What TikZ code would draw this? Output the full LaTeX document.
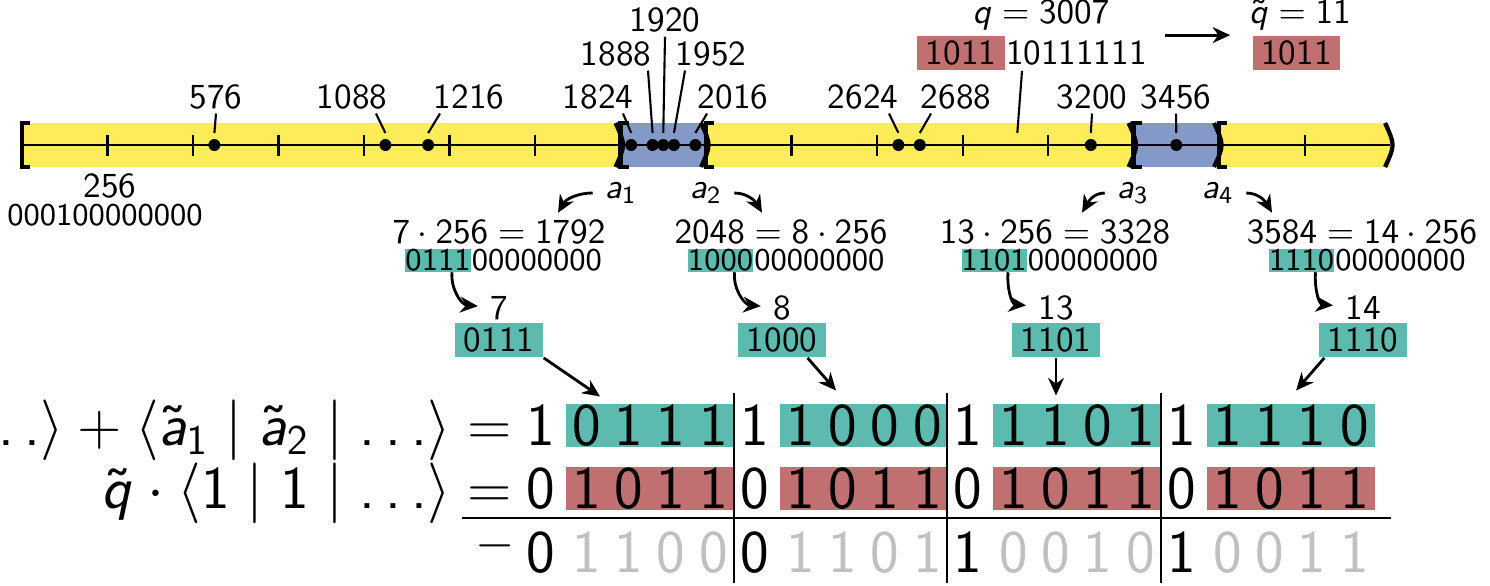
\documentclass[tikz,border=0pt]{standalone}
\renewcommand{\familydefault}{\sfdefault}
\DeclareSymbolFont{operators}{OT1}{cmss}{m}{n}
\DeclareSymbolFont{letters}{OT1}{cmss}{m}{sl}
\DeclareMathSymbol{\ldotp}{\mathpunct}{operators}{"2E}
\usetikzlibrary{arrows.meta, positioning, calc}
\definecolor{lineyellow}{RGB}{255,236,90}
\definecolor{ablue}{RGB}{133,153,200}
\definecolor{bitteal}{RGB}{92,187,174}
\definecolor{qred}{RGB}{192,112,112}
\definecolor{dimgray}{RGB}{192,192,192}
\newcommand{\nibble}[4]{\makebox[12pt]{#1}\makebox[12pt]{#2}\makebox[12pt]{#3}\makebox[12pt]{#4}}

\begin{document}
\begin{tikzpicture}[
    lbl/.style={inner sep=1pt},
    lead/.style={semithick},
    arr/.style={thick, -{Stealth[length=5pt, width=4.5pt]}},
    bits/.style={font=\small, inner sep=0pt},
    numbox/.style={inner xsep=2.4pt, inner ysep=1.5pt, text depth=0pt},
    bigbit/.style={font=\LARGE, inner sep=0pt, anchor=base},
    bigbox/.style={font=\LARGE, inner sep=0pt, anchor=base west, text depth=0.6pt},
    brk/.style={line width=1.2pt},
    lbrack/.pic={\draw[brk] (0.8mm,2.2mm) -- (0,2.2mm) -- (0,-2.2mm) -- (0.8mm,-2.2mm);},
    rparen/.pic={\draw[brk] (-0.5mm,2.2mm) .. controls (0.5mm,0) .. (-0.5mm,-2.2mm);}
  ]
  \useasboundingbox (0,0) rectangle (14.90,-5.85);

  % number line, one x unit per value
  \begin{scope}[xshift=2.2mm, x=0.0334mm]
    \fill[lineyellow] (0,-1.23) rectangle (4096,-1.67);
    \fill[ablue] (1792,-1.23) rectangle (2048,-1.67);
    \fill[ablue] (3328,-1.23) rectangle (3584,-1.67);
    \draw[thick] (0,-1.45) -- (4096,-1.45);
    \foreach \v in {256,512,...,1536,2304,2560,...,3072,3840}
      \draw[lead] (\v,-1.345) -- (\v,-1.555);
    \foreach \v in {0,1792,2048,3328,3584} \pic at (\v,-1.45) {lbrack};
    \foreach \v in {1792,2048,3328,3584,4096} \pic at (\v,-1.45) {rparen};
    \foreach \v in {576,1088,1216,1824,1888,1920,1952,2016,2624,2688,3200,3456} {
      \fill (\v,-1.45) circle (0.6mm);
      \coordinate (t\v) at (\v,-1.33);
    }
    \coordinate (tq) at (2980,-1.33);
  \end{scope}

  \foreach \v/\lx/\ly/\sx in {576/2.16/0.97/2.16, 1088/3.52/0.97/3.76, 1216/4.69/0.97/4.40,
      1824/5.98/0.97/6.23, 1888/6.16/0.54/6.48, 1920/6.65/0.20/6.65, 1952/7.11/0.54/6.85,
      2016/7.33/0.97/7.07, 2624/8.63/0.97/8.89, 2688/9.56/0.97/9.31, 3200/10.92/0.97/10.92,
      3456/11.76/0.97/11.76} {
    \node[lbl] (l\v) at (\lx,-\ly) {\v};
    \draw[lead] (l\v.south -| \sx,0) -- (t\v);
  }
  \node (l256) at (1.10,-1.86) {256};
  \node[bits] (b256) at (1.05,-2.15) {000100000000};

  % q and its top bits
  \node (qlab) at (10.41,-0.15) {$q = 3007$};
  \node[numbox, fill=qred] (qhl) at (9.61,-0.53) {1011};
  \node[inner xsep=0pt, inner ysep=1.5pt, text depth=0pt, right=0pt of qhl] (qrest) {10111111};
  \draw[lead] (qhl.south -| 10.22,0) -- (tq);
  \node (qtlab) at (13.00,-0.15) {$\tilde q = 11$};
  \node[numbox, fill=qred] (qt) at (12.965,-0.53) {1011};
  \draw[arr] ([xshift=1.8mm]qrest.north east) -- ([xshift=-2.2mm]qt.north west);

  % interval ends
  \node (a1) at (6.21,-1.93) {$a_1$};
  \node (a2) at (7.06,-1.93) {$a_2$};
  \node (a3) at (11.33,-1.93) {$a_3$};
  \node (a4) at (12.18,-1.93) {$a_4$};
  \node[inner sep=2pt] (p1) at (4.99,-2.32) {$7\cdot256=1792$};
  \node[inner sep=2pt] (p2) at (7.81,-2.32) {$2048=8\cdot256$};
  \node[inner sep=2pt] (p3) at (10.55,-2.32) {$13\cdot256=3328$};
  \node[inner sep=2pt] (p4) at (13.62,-2.32) {$3584=14\cdot256$};
  \draw[arr] (a1.west) to[out=180, in=60] ([xshift=5.9mm]p1.north);
  \draw[arr] (a2.east) to[out=0, in=120] ([xshift=-1.9mm]p2.north);
  \draw[arr] (a3.west) to[out=180, in=60] ([xshift=2.7mm]p3.north);
  \draw[arr] (a4.east) to[out=0, in=120] ([xshift=-9mm]p4.north);

  \foreach \i/\hx/\hb/\kx/\val in {1/4.38/0111/4.99/7, 2/7.205/1000/7.82/8,
      3/9.94/1101/10.56/13, 4/13.015/1110/13.63/14} {
    \node[bits, fill=bitteal] (h\i) at (\hx,-2.605) {\hb};
    \node[bits, right=0pt of h\i] {00000000};
    \node (n\i) at (\kx,-3.08) {\val};
    \node[numbox, fill=bitteal, minimum width=8.8mm] (k\i) at (\kx,-3.40) {\hb};
    \draw[arr] (h\i.-40) to[out=-95, in=175] (n\i);
  }

  % the packed sum
  \foreach \x/\lead/\nib [count=\i] in {5.65/1/0111, 7.79/1/1000, 9.92/1/1101, 12.06/1/1110} {
    \node[bigbit] at (\x-0.24,-4.45) {\lead};
    \node[bigbox, fill=bitteal] (t\i) at (\x,-4.45) {\expandafter\nibble\nib};
  }
  \foreach \x/\lead/\nib in {5.65/0/1011, 7.79/0/1011, 9.92/0/1011, 12.06/0/1011} {
    \node[bigbit] at (\x-0.24,-5.08) {\lead};
    \node[bigbox, fill=qred] at (\x,-5.08) {\expandafter\nibble\nib};
  }
  \foreach \x/\lead/\nib in {5.65/0/1100, 7.79/0/1101, 9.92/1/0010, 12.06/1/0011} {
    \node[bigbit] at (\x-0.24,-5.72) {\lead};
    \node[bigbox, text=dimgray] at (\x,-5.72) {\expandafter\nibble\nib};
  }
  \draw[arr] (k1.south east) -- ([shift={(-5mm,0.7mm)}]t1.north);
  \draw[arr] (k2.-35) -- ([shift={(-2.8mm,1.3mm)}]t2.north);
  \draw[arr, shorten >=0.8mm] (k3) -- (k3 |- t3.north);
  \draw[arr] ([xshift=0.6mm]k4.south west) -- ([shift={(0.5mm,1.3mm)}]t4.north);

  \node[bigbit, anchor=base east] (sum) at (4.52,-4.45) {$\ldots\rangle+\langle\tilde a_1\mid\tilde a_2\mid\ldots\rangle$};
  \node[bigbit] at (4.90,-4.45) {$=$};
  \node[bigbit, anchor=base east] (prod) at (4.52,-5.08) {$\tilde q\cdot\langle 1\mid 1\mid\ldots\rangle$};
  \node[bigbit] at (4.90,-5.08) {$=$};
  \node[bigbit, font=\Large] at (4.95,-5.58) {$-$};
  \draw[thick] (4.62,-5.18) -- (13.91,-5.18);
  \foreach \x in {7.34,9.47,11.61}
    \draw[thick] (\x,-3.93) -- (\x,-5.83);
\end{tikzpicture}
\end{document}
